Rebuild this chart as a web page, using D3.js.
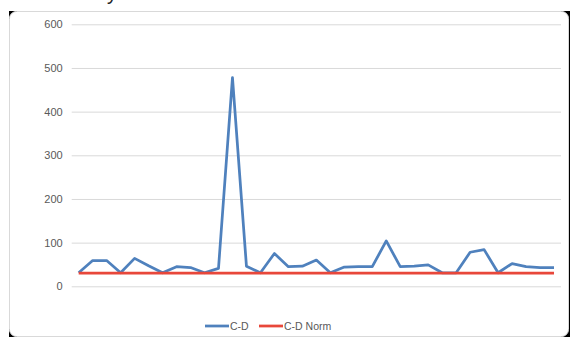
<!DOCTYPE html>
<html>
<head>
<meta charset="utf-8">
<script src="https://cdn.jsdelivr.net/npm/d3@7"></script>
<style>
  html, body { margin: 0; padding: 0; background: #ffffff; }
  svg { display: block; }
</style>
</head>
<body>
<svg id="chart" width="574" height="339"></svg>
<script>
// C-D readings per sample, and the flat C-D norm they are compared against
const cdValues = [31, 59, 59, 31, 64, 47, 31, 45, 43, 31, 41, 478, 46, 31, 75, 45, 46, 60,
                  31, 44, 45, 45, 104, 45, 46, 49, 31, 31, 78, 84, 31, 52, 45, 43, 43];
const cdNorm = cdValues.map(() => 30);
const categories = cdValues.map((_, i) => i + 1);
const yTicks = [0, 100, 200, 300, 400, 500, 600];
const seriesNames = ["C-D", "C-D Norm"];
const seriesColors = ["#4F81BD", "#E8473A"];

const svg = d3.select("#chart");
const W = 574, H = 339;

// Card behind the chart
svg.append("rect")
  .attr("x", 9).attr("y", 11).attr("width", 561).attr("height", 326)
  .attr("fill", "#000");
svg.append("rect")
  .attr("x", 9.5).attr("y", 11.5).attr("width", 559).attr("height", 325)
  .attr("rx", 7).attr("ry", 7)
  .attr("fill", "#fff").attr("stroke", "#d9d9d9").attr("stroke-width", 1);

// Tail of the page heading above the card
svg.append("text")
  .attr("x", 107).attr("y", 0)
  .attr("font-family", "Liberation Sans, Arial, sans-serif")
  .attr("font-size", 20)
  .attr("fill", "#222")
  .text("y");

const plot = { left: 71.7, right: 561, top: 24.3, bottom: 286.3 };

const x = d3.scaleBand()
  .domain(categories)
  .range([plot.left, plot.right])
  .paddingInner(0).paddingOuter(0);

const y = d3.scaleLinear()
  .domain([0, 600])
  .range([plot.bottom, plot.top]);

// Horizontal gridlines and value labels
const yAxis = d3.axisLeft(y)
  .tickValues(yTicks)
  .tickSize(-(plot.right - plot.left))
  .tickPadding(9)
  .tickFormat(d3.format("d"));

const gy = svg.append("g")
  .attr("transform", `translate(${plot.left},0)`)
  .call(yAxis);
gy.select(".domain").remove();
gy.selectAll(".tick line").attr("stroke", "#d9d9d9").attr("stroke-width", 1);
gy.selectAll(".tick text")
  .attr("fill", "#595959")
  .attr("font-family", "Liberation Sans, Arial, sans-serif")
  .attr("font-size", 11);

const cx = d => x(d) + x.bandwidth() / 2;

const line = d3.line()
  .x((d, i) => cx(categories[i]))
  .y(d => y(d));

svg.append("path")
  .datum(cdValues)
  .attr("d", line)
  .attr("fill", "none")
  .attr("stroke", seriesColors[0])
  .attr("stroke-width", 2.75)
  .attr("stroke-linejoin", "round");

svg.append("path")
  .datum(cdNorm)
  .attr("d", line)
  .attr("fill", "none")
  .attr("stroke", seriesColors[1])
  .attr("stroke-width", 2.75)
  .attr("stroke-linejoin", "round");

// Legend
const legend = svg.append("g").attr("transform", "translate(205,326)");
const items = [
  { name: seriesNames[0], color: seriesColors[0], x: 0 },
  { name: seriesNames[1], color: seriesColors[1], x: 54 }
];
items.forEach(it => {
  legend.append("line")
    .attr("x1", it.x).attr("x2", it.x + 24)
    .attr("y1", 0).attr("y2", 0)
    .attr("stroke", it.color).attr("stroke-width", 2.75);
  legend.append("text")
    .attr("x", it.x + 25).attr("y", 0)
    .attr("dy", "0.35em")
    .attr("fill", "#595959")
    .attr("font-family", "Liberation Sans, Arial, sans-serif")
    .attr("font-size", 10.5)
    .text(it.name);
});
</script>
</body>
</html>
